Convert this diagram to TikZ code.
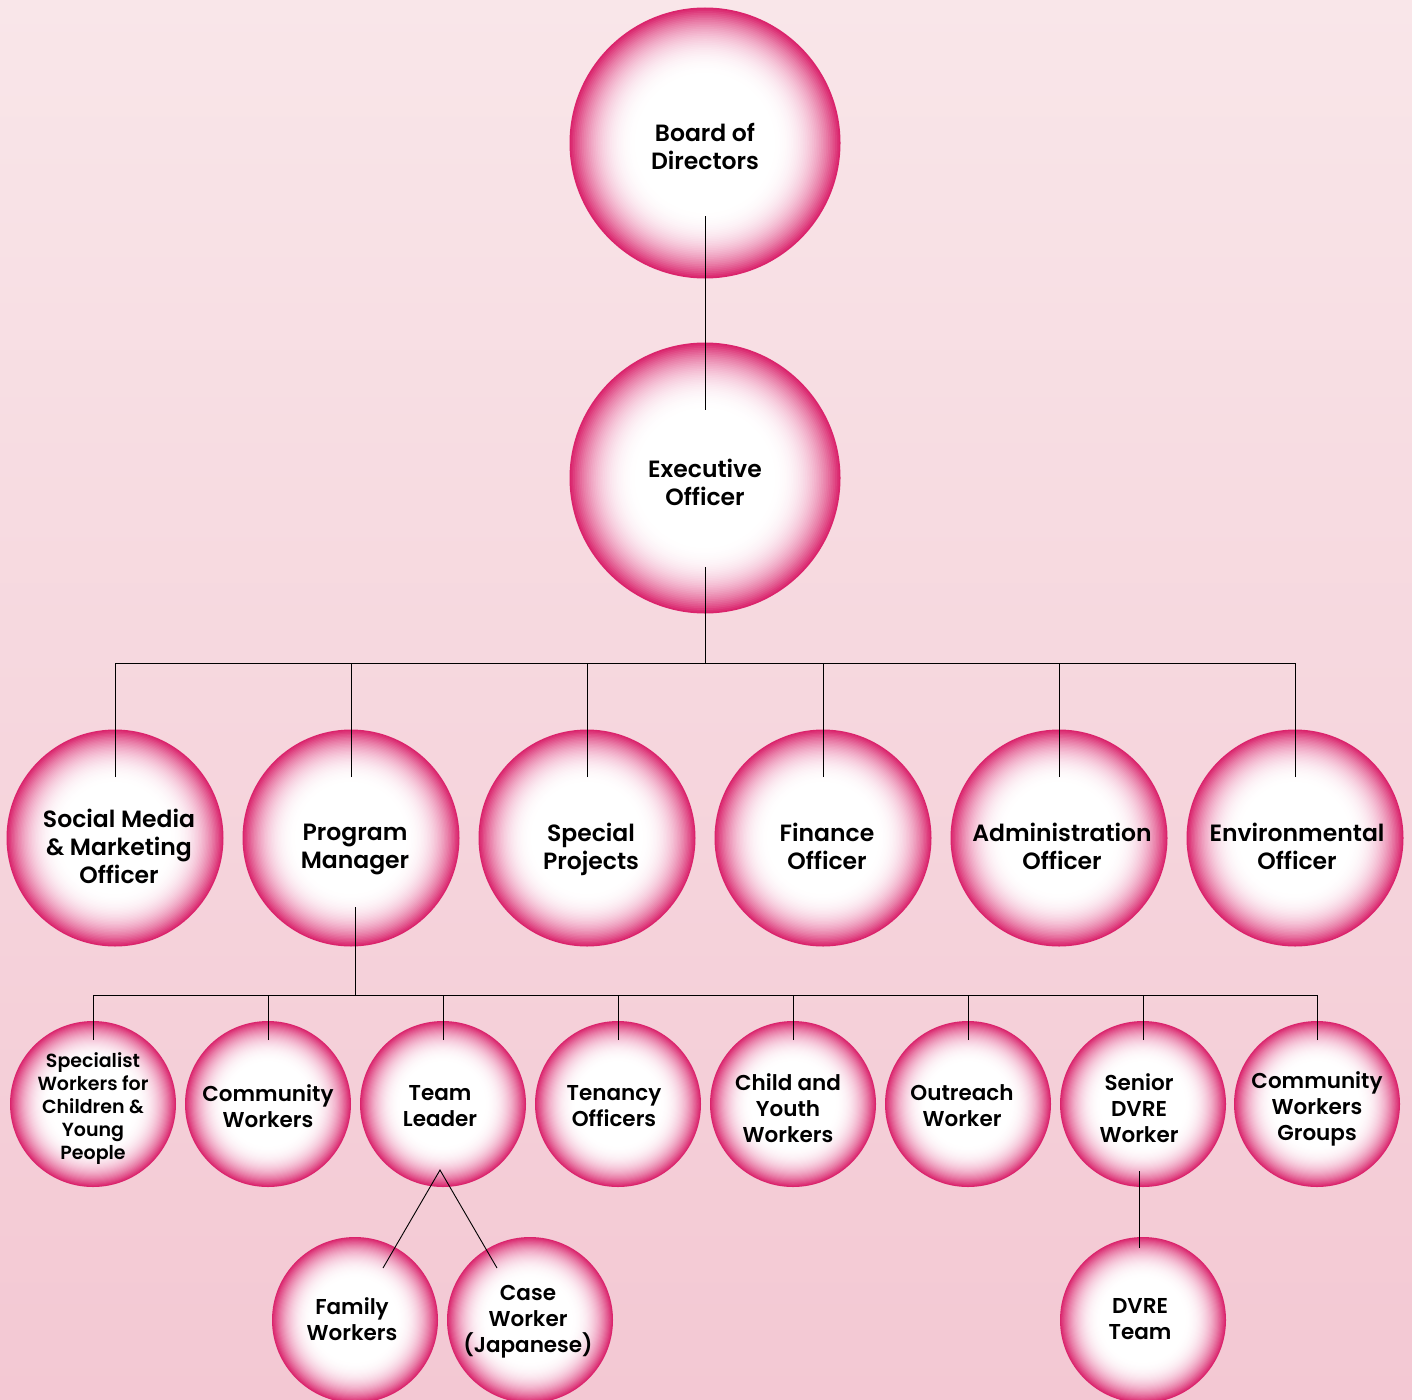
\documentclass[tikz,border=0pt]{standalone}
\usepackage{fontspec}
\setmainfont{Poppins SemiBold}
\usetikzlibrary{calc}
\definecolor{bgtop}{RGB}{249,230,233}
\definecolor{bgbot}{RGB}{243,200,211}
\definecolor{pinkC}{RGB}{218,36,108}
\newcommand\bubblefill[2]{%
  \foreach \k in {0,...,39}{%
    \pgfmathsetmacro\tt{(0.52-\k*0.013)/0.52}%
    \pgfmathsetmacro\pp{100*\tt*\tt*sqrt(\tt)}%
    \pgfmathsetmacro\ff{1-\k*0.013}%
    \fill[pinkC!\pp!white] (#1.center) circle[radius=\ff*#2pt];
  }%
  \fill[white] (#1.center) circle[radius=0.48*#2pt];
}
\begin{document}
\begin{tikzpicture}[x=1pt,y=-1pt,
  bub/.style={circle, inner sep=0pt, draw=none, minimum size=#1},
  lblA/.style={align=center, text=black, inner sep=0pt, text depth=0pt, font=\fontsize{23.5}{28}\selectfont},
  lblB/.style={align=center, text=black, inner sep=0pt, text depth=0pt, font=\fontsize{21.5}{26}\selectfont},
  lblC/.style={align=center, text=black, inner sep=0pt, text depth=0pt, font=\fontsize{19}{23}\selectfont},
  conn/.style={draw=black, line width=0.9pt}]
\shade[top color=bgtop, bottom color=bgbot] (0,0) rectangle (1412,1399);
\useasboundingbox (0,0) rectangle (1412,1399);

% level 1
\node[bub=271pt] (board) at (705,143) {};
\node[bub=271pt] (exec) at (705,478) {};
% level 2
\foreach \n/\x in {sm/115, pm/351, sp/587, fo/823, ao/1059, eo/1295}{
  \node[bub=217pt] (\n) at (\x,838) {};
}
% level 3
\foreach \n/\x in {sw/93, cw/268, tl/443, to/618, cy/793, ow/968, sd/1143, cg/1317}{
  \node[bub=166pt] (\n) at (\x,1104) {};
}
% level 4
\node[bub=166pt] (fw) at (355,1320) {};
\node[bub=166pt] (cwj) at (530,1320) {};
\node[bub=166pt] (dt) at (1143,1320) {};

% bubble fills
\bubblefill{board}{135.5}
\bubblefill{exec}{135.5}
\foreach \n in {sm,pm,sp,fo,ao,eo}{\bubblefill{\n}{108.5}}
\foreach \n in {sw,cw,tl,to,cy,ow,sd,cg,fw,cwj,dt}{\bubblefill{\n}{83}}

% labels
\node[lblA] (board-t) at (705,146) {Board of\\Directors};
\node[lblA] (exec-t) at (705,482) {Executive\\Officer};
\node[lblA] (sm-t) at (119,846) {Social Media\\\& Marketing\\Officer};
\node[lblA] (pm-t) at (355,846) {Program\\Manager};
\node[lblA] (sp-t) at (591,846) {Special\\Projects};
\node[lblA] (fo-t) at (827,846) {Finance\\Officer};
\node[lblA] (ao-t) at (1062,846) {Administration\\Officer};
\node[lblA] (eo-t) at (1297,846) {Environmental\\Officer};
\node[lblC] (sw-t) at (93,1106) {Specialist\\Workers for\\Children \&\\Young\\People};
\node[lblB] (cw-t) at (268,1106) {Community\\Workers};
\node[lblB] (tl-t) at (440,1106) {Team\\Leader};
\node[lblB] (to-t) at (614,1106) {Tenancy\\Officers};
\node[lblB] (cy-t) at (788,1108) {Child and\\Youth\\Workers};
\node[lblB] (ow-t) at (962,1106) {Outreach\\Worker};
\node[lblB] (sd-t) at (1139,1108) {Senior\\DVRE\\Worker};
\node[lblB] (cg-t) at (1317,1106) {Community\\Workers\\Groups};
\node[lblB] (fw-t) at (352,1319) {Family\\Workers};
\node[lblB] (cwj-t) at (528,1319) {Case\\Worker\\(Japanese)};
\node[lblB] (dt-t) at (1140,1319) {DVRE\\Team};

% connectors
\draw[conn] ([yshift=-73pt]board.center) -- ([yshift=68pt]exec.center);
\coordinate (bus1) at (705,663);
\draw[conn] ([yshift=-89pt]exec.center) -- (bus1);
\foreach \n in {sm,pm,sp,fo,ao,eo}{
  \draw[conn] ([yshift=61pt]\n.center) -- (\n.center |- bus1) -- (bus1);
}
\coordinate (bus2) at (355,995);
\draw[conn] ([xshift=4pt,yshift=-69pt]pm.center) -- (bus2);
\foreach \n in {sw,cw,tl,to,cy,ow,sd,cg}{
  \draw[conn] ([yshift=64pt]\n.center) -- (\n.center |- bus2) -- (bus2);
}
\draw[conn] ([xshift=28pt,yshift=52pt]fw.center) -- ([xshift=-3pt,yshift=-66pt]tl.center) -- ([xshift=-33pt,yshift=52pt]cwj.center);
\draw[conn] ([xshift=-4pt,yshift=-67pt]sd.center) -- ([xshift=-4pt,yshift=72pt]dt.center);
\end{tikzpicture}
\end{document}
